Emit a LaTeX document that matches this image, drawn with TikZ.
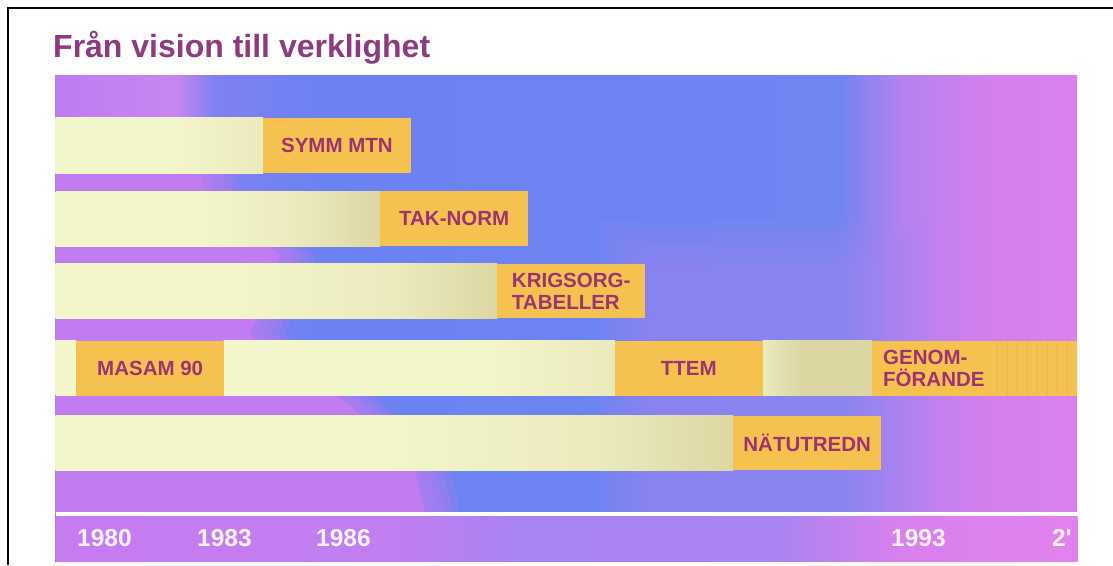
\documentclass[tikz,border=0pt]{standalone}
\usepackage{fontspec}
\setmainfont{Liberation Sans}
\definecolor{titlecol}{HTML}{8E3A80}
\definecolor{labelcol}{HTML}{9E3373}
\definecolor{boxorange}{HTML}{F6C24F}
\definecolor{stripecol}{HTML}{E8B45C}
\definecolor{pale}{HTML}{F3F5CB}
\definecolor{midy}{HTML}{EBEABD}
\definecolor{tany}{HTML}{DCD7A2}
\definecolor{bgA}{HTML}{BE7CF2}
\definecolor{bgB}{HTML}{C886F0}
\definecolor{bgC}{HTML}{8080F2}
\definecolor{bgD}{HTML}{6C82F2}
\definecolor{bgE}{HTML}{7084F2}
\definecolor{bgF}{HTML}{B482EE}
\definecolor{bgG}{HTML}{D47FEE}
\definecolor{bgH}{HTML}{DA80EE}
\definecolor{wedge}{HTML}{C07CF0}
\definecolor{lav}{HTML}{A486F0}
\definecolor{btA}{HTML}{C67CF0}
\definecolor{btB}{HTML}{C07EF0}
\definecolor{btC}{HTML}{A884F0}
\definecolor{btD}{HTML}{AA84F0}
\definecolor{btE}{HTML}{D880EE}
\definecolor{btF}{HTML}{E282EE}
\definecolor{yearcol}{HTML}{FFF4FF}

% horizontal colour run: \hrun{y-top}{y-bottom}{x1/c1/x2/c2, ...}
\newcommand{\hrun}[3]{%
  \foreach \xa/\ca/\xb/\cb in {#3}{%
    \fill[left color=\ca,right color=\cb] (\xa-0.4,#1) rectangle (\xb+0.4,#2);%
  }%
}

\begin{document}
\begin{tikzpicture}[x=1pt,y=-1pt,
  milestone/.style={fill=boxorange, draw=none, anchor=north west,
    minimum width=148pt, minimum height=55pt, inner sep=0pt,
    font=\fontsize{20.5}{22}\selectfont\bfseries, text=labelcol},
  year/.style={anchor=base west, inner sep=0pt, text=yearcol,
    font=\fontsize{24.5}{26}\selectfont\bfseries}]

\useasboundingbox (0,0) rectangle (1113,565);
\fill[white] (0,0) rectangle (1113,565);

% frame
\draw[line width=2.5pt] (8.2,565) -- (8.2,8) -- (1113,8);

% title
\node[anchor=base west, inner sep=0pt, text=titlecol,
  font=\fontsize{32}{36}\selectfont\bfseries] (title) at (53,57)
  {Från vision till verklighet};

% ---- background panel ----
\begin{scope}
\clip (55.7,75) rectangle (1077,561.7);
\hrun{75}{561.7}{55.7/bgA/175/bgB, 175/bgB/215/bgC, 215/bgC/320/bgD,
  320/bgD/840/bgE, 840/bgE/900/bgF, 900/bgF/990/bgG, 990/bgG/1077/bgH}
% purple area spreading to the right lower down, soft edged
\fill[wedge] (55.7,118) -- (190,118) -- (205,190) -- (280,255)
  -- (250,335) -- (350,405) -- (415,470) -- (425,512) -- (55.7,512) -- cycle;
\foreach \d in {7,14,...,35}
  \fill[wedge, opacity=0.22, xshift=\d pt] (0,118) -- (190,118) -- (205,190)
    -- (280,255) -- (250,335) -- (350,405) -- (415,470) -- (425,512)
    -- (0,512) -- cycle;
% lighter lavender haze in the lower middle
\foreach \d in {0,8,...,48}
  \fill[lav, opacity=0.1] (600+\d,220+\d) rectangle (930-\d,512);
\end{scope}
% strip under the time line
\hrun{516}{561.7}{55.7/btA/400/btB, 400/btB/520/btC, 520/btC/780/btD,
  780/btD/900/btE, 900/btE/1077/btF}
% time line
\draw[white, line width=3.5pt] (55.7,514) -- (1077,514);

% ---- pale bars ----
% row 1
\hrun{117.5}{173}{55.7/pale/170/pale, 170/pale/262.7/midy}
% row 2
\hrun{191}{246}{55.7/pale/200/pale, 200/pale/300/midy, 300/midy/380/tany}
% row 3
\hrun{263.5}{318}{55.7/pale/230/pale, 230/pale/400/midy, 400/midy/497/tany}
% row 4
\hrun{340.5}{395.5}{55.7/pale/76/pale, 224/pale/480/pale, 480/pale/614.6/midy,
  763/midy/800/tany, 800/tany/872/tany}
% row 5
\hrun{415.5}{470}{55.7/pale/380/pale, 380/pale/600/midy, 600/midy/733/tany}

% ---- milestones ----
\node[milestone] (symm) at (262.7,117.5) {SYMM MTN};
\node[milestone] (tak) at (380,191) {TAK-NORM};
\node[milestone, minimum height=54.5pt, align=left] (krig) at (497,263.5)
  {KRIGSORG-\\TABELLER};
\node[milestone] (masam) at (76,340.5) {MASAM 90};
\node[milestone] (ttem) at (614.6,340.5) {TTEM};
\node[milestone, minimum width=205pt, align=left, text width=183pt,
  inner xsep=11pt] (genom) at (872,340.5) {GENOM-\\FÖRANDE};
\node[milestone, minimum height=54.5pt] (nat) at (733,415.5) {NÄTUTREDN};

% hatching at the open end of the last phase
\foreach \sx in {997,1007,...,1072}
  \draw[stripecol, line width=0.9pt] (\sx,0 |- genom.north) -- (\sx,0 |- genom.south);

% ---- years ----
\node[year] (y1980) at (77,546.7) {1980};
\node[year] (y1983) at (197,546.7) {1983};
\node[year] (y1986) at (316,546.7) {1986};
\node[year] (y1993) at (891,546.7) {1993};
\node[year] (y2000) at (1052,546.7) {2\textquotesingle};
\end{tikzpicture}
\end{document}
